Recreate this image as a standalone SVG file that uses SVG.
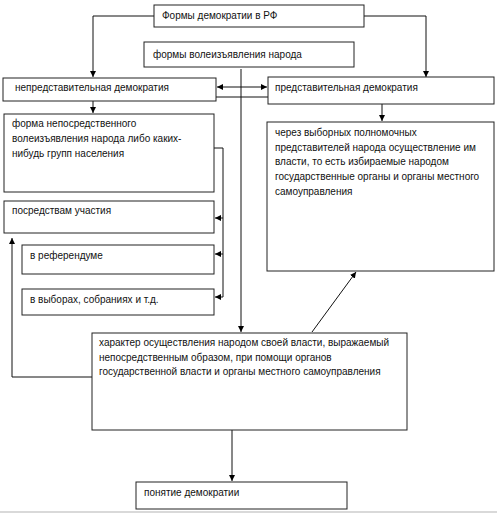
<svg xmlns="http://www.w3.org/2000/svg" width="497" height="514" viewBox="0 0 497 514">
<defs>
<marker id="ah" viewBox="0 0 10 10" refX="10" refY="5" markerWidth="6" markerHeight="6" orient="auto-start-reverse" markerUnits="userSpaceOnUse">
<path d="M0,0 L10,5 L0,10 z" fill="#000"/>
</marker>
<style>
.box{fill:#fff;stroke:#222;stroke-width:1}
.t{font-family:"Liberation Sans",Arial,sans-serif;font-size:10px;fill:#111}
.c{fill:none;stroke:#111;stroke-width:1}
.a{marker-end:url(#ah)}
</style>
</defs>
<rect width="497" height="514" fill="#fff"/>
<line x1="0" y1="512" x2="497" y2="512" stroke="#ccc" stroke-width="1.5"/>
<g id="connectors">
<polyline class="c a" points="154,16 93,16 93,77"/>
<polyline class="c a" points="364,16 426,16 426,77"/>
<line class="c a" x1="241" y1="69" x2="241" y2="332"/>
<line class="c a" x1="217" y1="87" x2="267" y2="87" style="marker-start:url(#ah)"/>
<line class="c" x1="216" y1="97" x2="268" y2="97"/>
<line class="c a" x1="93" y1="101" x2="93" y2="113"/>
<polyline class="c" points="214,148 223,148 223,297"/>
<line class="c a" x1="223" y1="218" x2="215" y2="218"/>
<line class="c a" x1="223" y1="254" x2="215" y2="254"/>
<line class="c a" x1="223" y1="297" x2="215" y2="297"/>
<polyline class="c a" points="92,377 12,377 12,238"/>
<line class="c a" x1="382" y1="104" x2="382" y2="121"/>
<line class="c a" x1="312" y1="332" x2="356" y2="272"/>
<line class="c a" x1="232" y1="430" x2="232" y2="481"/>
</g>
<g id="n1"><rect class="box" x="154" y="5" width="210" height="22"/><text class="t" x="162" y="19">Формы демократии в РФ</text></g>
<g id="n2"><rect class="box" x="144" y="42" width="210" height="25"/><text class="t" x="153" y="58">формы волеизъявления народа</text></g>
<g id="n3"><rect class="box" x="3" y="78" width="213" height="23"/><text class="t" x="15" y="91">непредставительная демократия</text></g>
<g id="n4"><rect class="box" x="268" y="77" width="226" height="27"/><text class="t" x="275" y="91">представительная  демократия</text></g>
<g id="n5"><rect class="box" x="4" y="114" width="210" height="78"/><text class="t" x="12" y="127">форма непосредственного</text><text class="t" x="12" y="142">волеизъявления народа либо каких-</text><text class="t" x="12" y="157">нибудь групп  населения</text></g>
<g id="n6"><rect class="box" x="4" y="201" width="210" height="32"/><text class="t" x="12" y="214">посредствам участия</text></g>
<g id="n7"><rect class="box" x="22" y="245" width="192" height="29"/><text class="t" x="30" y="259">в референдуме</text></g>
<g id="n8"><rect class="box" x="22" y="289" width="192" height="26"/><text class="t" x="30" y="303">в выборах, собраниях и т.д.</text></g>
<g id="n9"><rect class="box" x="267" y="122" width="227" height="149"/><text class="t" x="275" y="136">через выборных полномочных</text><text class="t" x="275" y="151">представителей народа осуществление им</text><text class="t" x="275" y="165">власти, то есть избираемые народом</text><text class="t" x="275" y="180">государственные органы и органы местного</text><text class="t" x="275" y="195">самоуправления</text></g>
<g id="n10"><rect class="box" x="92" y="333" width="315" height="97"/><text class="t" x="99" y="346">характер осуществления народом своей власти, выражаемый</text><text class="t" x="99" y="361">непосредственным образом, при помощи органов</text><text class="t" x="99" y="375">государственной власти и органы местного самоуправления</text></g>
<g id="n11"><rect class="box" x="136" y="482" width="211" height="27"/><text class="t" x="144" y="496">понятие демократии</text></g>
</svg>
